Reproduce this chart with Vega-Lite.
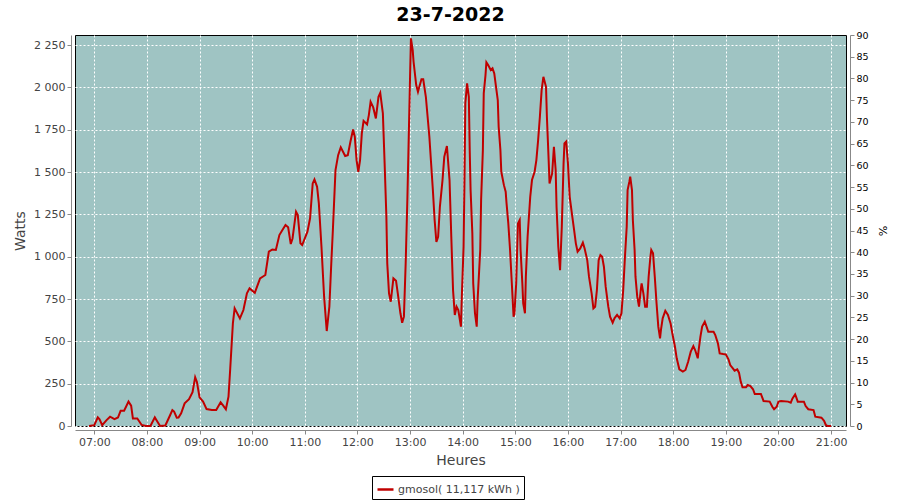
{
  "$schema": "https://vega.github.io/schema/vega-lite/v6.json",
  "width": 771,
  "height": 391,
  "autosize": {"type": "none"},
  "padding": {"left": 75, "top": 35, "right": 54, "bottom": 74},
  "background": "white",
  "title": {"text": "23-7-2022", "fontSize": 19, "fontWeight": "bold", "font": "DejaVu Sans", "color": "#000", "anchor": "middle", "frame": "group", "dx": -10, "offset": 5},
  "config": {
    "view": {"fill": "#9fc4c3", "stroke": "#000", "strokeWidth": 1},
    "axis": {"labelFont": "DejaVu Sans", "titleFont": "DejaVu Sans", "labelColor": "#444", "titleColor": "#444", "domainColor": "#888", "tickColor": "#888", "tickSize": 4, "titleFontWeight": "normal", "gridColor": "#ffffff", "gridDash": [2, 2], "gridOpacity": 1, "gridWidth": 1}
  },
  "layer": [
    {
      "data": {"values": [
        {"t":"2022-07-23T06:54:00","w":0},{"t":"2022-07-23T07:00:00","w":5},{"t":"2022-07-23T07:04:00","w":51},{"t":"2022-07-23T07:06:00","w":40},{"t":"2022-07-23T07:09:00","w":5},{"t":"2022-07-23T07:14:00","w":35},{"t":"2022-07-23T07:18:00","w":55},{"t":"2022-07-23T07:23:00","w":41},{"t":"2022-07-23T07:27:00","w":50},{"t":"2022-07-23T07:30:00","w":90},{"t":"2022-07-23T07:34:00","w":90},{"t":"2022-07-23T07:39:00","w":144},{"t":"2022-07-23T07:42:00","w":120},{"t":"2022-07-23T07:44:00","w":45},{"t":"2022-07-23T07:49:00","w":45},{"t":"2022-07-23T07:54:00","w":6},{"t":"2022-07-23T07:59:00","w":0},{"t":"2022-07-23T08:04:00","w":0},{"t":"2022-07-23T08:09:00","w":51},{"t":"2022-07-23T08:12:00","w":25},{"t":"2022-07-23T08:15:00","w":0},{"t":"2022-07-23T08:21:00","w":3},{"t":"2022-07-23T08:26:00","w":59},{"t":"2022-07-23T08:29:00","w":94},{"t":"2022-07-23T08:31:00","w":85},{"t":"2022-07-23T08:34:00","w":49},{"t":"2022-07-23T08:36:00","w":50},{"t":"2022-07-23T08:39:00","w":75},{"t":"2022-07-23T08:43:00","w":134},{"t":"2022-07-23T08:48:00","w":158},{"t":"2022-07-23T08:52:00","w":200},{"t":"2022-07-23T08:55:00","w":288},{"t":"2022-07-23T08:57:00","w":260},{"t":"2022-07-23T09:00:00","w":169},{"t":"2022-07-23T09:04:00","w":144},{"t":"2022-07-23T09:08:00","w":100},{"t":"2022-07-23T09:14:00","w":94},{"t":"2022-07-23T09:19:00","w":94},{"t":"2022-07-23T09:24:00","w":140},{"t":"2022-07-23T09:27:00","w":120},{"t":"2022-07-23T09:30:00","w":99},{"t":"2022-07-23T09:33:00","w":173},{"t":"2022-07-23T09:35:00","w":341},{"t":"2022-07-23T09:38:00","w":606},{"t":"2022-07-23T09:40:00","w":695},{"t":"2022-07-23T09:46:00","w":636},{"t":"2022-07-23T09:50:00","w":685},{"t":"2022-07-23T09:54:00","w":784},{"t":"2022-07-23T09:57:00","w":813},{"t":"2022-07-23T10:03:00","w":787},{"t":"2022-07-23T10:09:00","w":872},{"t":"2022-07-23T10:15:00","w":892},{"t":"2022-07-23T10:19:00","w":1030},{"t":"2022-07-23T10:23:00","w":1043},{"t":"2022-07-23T10:27:00","w":1040},{"t":"2022-07-23T10:31:00","w":1128},{"t":"2022-07-23T10:35:00","w":1162},{"t":"2022-07-23T10:38:00","w":1187},{"t":"2022-07-23T10:41:00","w":1174},{"t":"2022-07-23T10:44:00","w":1075},{"t":"2022-07-23T10:46:00","w":1108},{"t":"2022-07-23T10:50:00","w":1266},{"t":"2022-07-23T10:52:00","w":1246},{"t":"2022-07-23T10:55:00","w":1079},{"t":"2022-07-23T10:57:00","w":1069},{"t":"2022-07-23T11:03:00","w":1148},{"t":"2022-07-23T11:06:00","w":1227},{"t":"2022-07-23T11:09:00","w":1433},{"t":"2022-07-23T11:11:00","w":1457},{"t":"2022-07-23T11:14:00","w":1413},{"t":"2022-07-23T11:16:00","w":1315},{"t":"2022-07-23T11:19:00","w":1059},{"t":"2022-07-23T11:22:00","w":764},{"t":"2022-07-23T11:25:00","w":561},{"t":"2022-07-23T11:28:00","w":705},{"t":"2022-07-23T11:30:00","w":941},{"t":"2022-07-23T11:32:00","w":1158},{"t":"2022-07-23T11:34:00","w":1394},{"t":"2022-07-23T11:35:00","w":1512},{"t":"2022-07-23T11:38:00","w":1600},{"t":"2022-07-23T11:41:00","w":1646},{"t":"2022-07-23T11:46:00","w":1595},{"t":"2022-07-23T11:49:00","w":1600},{"t":"2022-07-23T11:52:00","w":1679},{"t":"2022-07-23T11:55:00","w":1752},{"t":"2022-07-23T11:57:00","w":1709},{"t":"2022-07-23T11:59:00","w":1571},{"t":"2022-07-23T12:01:00","w":1502},{"t":"2022-07-23T12:03:00","w":1571},{"t":"2022-07-23T12:05:00","w":1729},{"t":"2022-07-23T12:07:00","w":1803},{"t":"2022-07-23T12:11:00","w":1782},{"t":"2022-07-23T12:13:00","w":1837},{"t":"2022-07-23T12:15:00","w":1915},{"t":"2022-07-23T12:18:00","w":1882},{"t":"2022-07-23T12:21:00","w":1817},{"t":"2022-07-23T12:24:00","w":1945},{"t":"2022-07-23T12:26:00","w":1968},{"t":"2022-07-23T12:29:00","w":1847},{"t":"2022-07-23T12:31:00","w":1551},{"t":"2022-07-23T12:33:00","w":1236},{"t":"2022-07-23T12:34:00","w":961},{"t":"2022-07-23T12:36:00","w":784},{"t":"2022-07-23T12:38:00","w":734},{"t":"2022-07-23T12:41:00","w":872},{"t":"2022-07-23T12:44:00","w":858},{"t":"2022-07-23T12:46:00","w":784},{"t":"2022-07-23T12:49:00","w":666},{"t":"2022-07-23T12:51:00","w":610},{"t":"2022-07-23T12:53:00","w":646},{"t":"2022-07-23T12:55:00","w":961},{"t":"2022-07-23T12:57:00","w":1354},{"t":"2022-07-23T12:59:00","w":1827},{"t":"2022-07-23T13:00:00","w":2063},{"t":"2022-07-23T13:01:00","w":2290},{"t":"2022-07-23T13:03:00","w":2221},{"t":"2022-07-23T13:04:00","w":2152},{"t":"2022-07-23T13:07:00","w":2014},{"t":"2022-07-23T13:09:00","w":1974},{"t":"2022-07-23T13:10:00","w":1994},{"t":"2022-07-23T13:13:00","w":2048},{"t":"2022-07-23T13:15:00","w":2048},{"t":"2022-07-23T13:18:00","w":1945},{"t":"2022-07-23T13:20:00","w":1827},{"t":"2022-07-23T13:22:00","w":1709},{"t":"2022-07-23T13:24:00","w":1551},{"t":"2022-07-23T13:26:00","w":1394},{"t":"2022-07-23T13:28:00","w":1217},{"t":"2022-07-23T13:30:00","w":1088},{"t":"2022-07-23T13:32:00","w":1118},{"t":"2022-07-23T13:34:00","w":1295},{"t":"2022-07-23T13:37:00","w":1453},{"t":"2022-07-23T13:39:00","w":1590},{"t":"2022-07-23T13:42:00","w":1654},{"t":"2022-07-23T13:45:00","w":1453},{"t":"2022-07-23T13:47:00","w":1118},{"t":"2022-07-23T13:49:00","w":803},{"t":"2022-07-23T13:51:00","w":656},{"t":"2022-07-23T13:53:00","w":705},{"t":"2022-07-23T13:55:00","w":685},{"t":"2022-07-23T13:58:00","w":587},{"t":"2022-07-23T13:59:00","w":764},{"t":"2022-07-23T14:01:00","w":1059},{"t":"2022-07-23T14:02:00","w":1433},{"t":"2022-07-23T14:03:00","w":1906},{"t":"2022-07-23T14:05:00","w":2024},{"t":"2022-07-23T14:07:00","w":1945},{"t":"2022-07-23T14:08:00","w":1630},{"t":"2022-07-23T14:09:00","w":1394},{"t":"2022-07-23T14:11:00","w":1138},{"t":"2022-07-23T14:12:00","w":843},{"t":"2022-07-23T14:14:00","w":666},{"t":"2022-07-23T14:16:00","w":587},{"t":"2022-07-23T14:17:00","w":744},{"t":"2022-07-23T14:20:00","w":1040},{"t":"2022-07-23T14:21:00","w":1335},{"t":"2022-07-23T14:23:00","w":1630},{"t":"2022-07-23T14:24:00","w":1965},{"t":"2022-07-23T14:26:00","w":2073},{"t":"2022-07-23T14:27:00","w":2148},{"t":"2022-07-23T14:29:00","w":2132},{"t":"2022-07-23T14:32:00","w":2103},{"t":"2022-07-23T14:34:00","w":2113},{"t":"2022-07-23T14:36:00","w":2083},{"t":"2022-07-23T14:38:00","w":2004},{"t":"2022-07-23T14:40:00","w":1925},{"t":"2022-07-23T14:41:00","w":1768},{"t":"2022-07-23T14:43:00","w":1630},{"t":"2022-07-23T14:44:00","w":1502},{"t":"2022-07-23T14:47:00","w":1423},{"t":"2022-07-23T14:49:00","w":1384},{"t":"2022-07-23T14:50:00","w":1315},{"t":"2022-07-23T14:52:00","w":1197},{"t":"2022-07-23T14:54:00","w":1040},{"t":"2022-07-23T14:56:00","w":843},{"t":"2022-07-23T14:58:00","w":646},{"t":"2022-07-23T14:59:00","w":666},{"t":"2022-07-23T15:01:00","w":843},{"t":"2022-07-23T15:03:00","w":1197},{"t":"2022-07-23T15:05:00","w":1217},{"t":"2022-07-23T15:06:00","w":1040},{"t":"2022-07-23T15:08:00","w":843},{"t":"2022-07-23T15:09:00","w":725},{"t":"2022-07-23T15:11:00","w":666},{"t":"2022-07-23T15:12:00","w":882},{"t":"2022-07-23T15:14:00","w":1118},{"t":"2022-07-23T15:17:00","w":1354},{"t":"2022-07-23T15:19:00","w":1453},{"t":"2022-07-23T15:22:00","w":1502},{"t":"2022-07-23T15:24:00","w":1571},{"t":"2022-07-23T15:26:00","w":1689},{"t":"2022-07-23T15:28:00","w":1827},{"t":"2022-07-23T15:30:00","w":1984},{"t":"2022-07-23T15:32:00","w":2063},{"t":"2022-07-23T15:35:00","w":2004},{"t":"2022-07-23T15:36:00","w":1827},{"t":"2022-07-23T15:38:00","w":1571},{"t":"2022-07-23T15:39:00","w":1433},{"t":"2022-07-23T15:41:00","w":1473},{"t":"2022-07-23T15:42:00","w":1492},{"t":"2022-07-23T15:44:00","w":1650},{"t":"2022-07-23T15:46:00","w":1512},{"t":"2022-07-23T15:47:00","w":1295},{"t":"2022-07-23T15:49:00","w":1059},{"t":"2022-07-23T15:51:00","w":921},{"t":"2022-07-23T15:53:00","w":1177},{"t":"2022-07-23T15:55:00","w":1551},{"t":"2022-07-23T15:56:00","w":1669},{"t":"2022-07-23T15:58:00","w":1680},{"t":"2022-07-23T16:00:00","w":1551},{"t":"2022-07-23T16:02:00","w":1354},{"t":"2022-07-23T16:05:00","w":1236},{"t":"2022-07-23T16:07:00","w":1158},{"t":"2022-07-23T16:09:00","w":1079},{"t":"2022-07-23T16:11:00","w":1030},{"t":"2022-07-23T16:14:00","w":1049},{"t":"2022-07-23T16:17:00","w":1083},{"t":"2022-07-23T16:19:00","w":1049},{"t":"2022-07-23T16:22:00","w":980},{"t":"2022-07-23T16:24:00","w":882},{"t":"2022-07-23T16:27:00","w":784},{"t":"2022-07-23T16:29:00","w":695},{"t":"2022-07-23T16:31:00","w":705},{"t":"2022-07-23T16:33:00","w":803},{"t":"2022-07-23T16:35:00","w":980},{"t":"2022-07-23T16:37:00","w":1010},{"t":"2022-07-23T16:39:00","w":1000},{"t":"2022-07-23T16:41:00","w":941},{"t":"2022-07-23T16:43:00","w":823},{"t":"2022-07-23T16:46:00","w":705},{"t":"2022-07-23T16:48:00","w":646},{"t":"2022-07-23T16:51:00","w":610},{"t":"2022-07-23T16:53:00","w":636},{"t":"2022-07-23T16:56:00","w":656},{"t":"2022-07-23T16:59:00","w":636},{"t":"2022-07-23T17:01:00","w":666},{"t":"2022-07-23T17:03:00","w":803},{"t":"2022-07-23T17:05:00","w":1000},{"t":"2022-07-23T17:07:00","w":1177},{"t":"2022-07-23T17:08:00","w":1394},{"t":"2022-07-23T17:10:00","w":1443},{"t":"2022-07-23T17:11:00","w":1473},{"t":"2022-07-23T17:13:00","w":1394},{"t":"2022-07-23T17:14:00","w":1217},{"t":"2022-07-23T17:16:00","w":1040},{"t":"2022-07-23T17:17:00","w":882},{"t":"2022-07-23T17:19:00","w":764},{"t":"2022-07-23T17:21:00","w":705},{"t":"2022-07-23T17:23:00","w":803},{"t":"2022-07-23T17:24:00","w":843},{"t":"2022-07-23T17:26:00","w":784},{"t":"2022-07-23T17:28:00","w":705},{"t":"2022-07-23T17:30:00","w":705},{"t":"2022-07-23T17:32:00","w":882},{"t":"2022-07-23T17:34:00","w":1000},{"t":"2022-07-23T17:35:00","w":1040},{"t":"2022-07-23T17:37:00","w":1020},{"t":"2022-07-23T17:39:00","w":882},{"t":"2022-07-23T17:41:00","w":725},{"t":"2022-07-23T17:43:00","w":587},{"t":"2022-07-23T17:45:00","w":518},{"t":"2022-07-23T17:46:00","w":567},{"t":"2022-07-23T17:48:00","w":636},{"t":"2022-07-23T17:51:00","w":681},{"t":"2022-07-23T17:54:00","w":656},{"t":"2022-07-23T17:57:00","w":606},{"t":"2022-07-23T17:59:00","w":547},{"t":"2022-07-23T18:02:00","w":468},{"t":"2022-07-23T18:04:00","w":400},{"t":"2022-07-23T18:07:00","w":335},{"t":"2022-07-23T18:11:00","w":321},{"t":"2022-07-23T18:14:00","w":331},{"t":"2022-07-23T18:17:00","w":380},{"t":"2022-07-23T18:20:00","w":439},{"t":"2022-07-23T18:23:00","w":472},{"t":"2022-07-23T18:25:00","w":449},{"t":"2022-07-23T18:28:00","w":400},{"t":"2022-07-23T18:29:00","w":449},{"t":"2022-07-23T18:31:00","w":527},{"t":"2022-07-23T18:33:00","w":587},{"t":"2022-07-23T18:36:00","w":616},{"t":"2022-07-23T18:38:00","w":587},{"t":"2022-07-23T18:40:00","w":557},{"t":"2022-07-23T18:43:00","w":557},{"t":"2022-07-23T18:46:00","w":557},{"t":"2022-07-23T18:48:00","w":537},{"t":"2022-07-23T18:51:00","w":488},{"t":"2022-07-23T18:53:00","w":429},{"t":"2022-07-23T18:57:00","w":425},{"t":"2022-07-23T19:00:00","w":423},{"t":"2022-07-23T19:03:00","w":394},{"t":"2022-07-23T19:05:00","w":360},{"t":"2022-07-23T19:08:00","w":341},{"t":"2022-07-23T19:10:00","w":327},{"t":"2022-07-23T19:13:00","w":335},{"t":"2022-07-23T19:15:00","w":315},{"t":"2022-07-23T19:17:00","w":262},{"t":"2022-07-23T19:19:00","w":229},{"t":"2022-07-23T19:23:00","w":229},{"t":"2022-07-23T19:25:00","w":242},{"t":"2022-07-23T19:28:00","w":236},{"t":"2022-07-23T19:31:00","w":217},{"t":"2022-07-23T19:33:00","w":189},{"t":"2022-07-23T19:40:00","w":189},{"t":"2022-07-23T19:43:00","w":148},{"t":"2022-07-23T19:50:00","w":144},{"t":"2022-07-23T19:53:00","w":114},{"t":"2022-07-23T19:55:00","w":99},{"t":"2022-07-23T19:58:00","w":114},{"t":"2022-07-23T20:00:00","w":144},{"t":"2022-07-23T20:03:00","w":148},{"t":"2022-07-23T20:11:00","w":144},{"t":"2022-07-23T20:14:00","w":138},{"t":"2022-07-23T20:16:00","w":163},{"t":"2022-07-23T20:19:00","w":187},{"t":"2022-07-23T20:20:00","w":173},{"t":"2022-07-23T20:22:00","w":144},{"t":"2022-07-23T20:29:00","w":144},{"t":"2022-07-23T20:31:00","w":118},{"t":"2022-07-23T20:34:00","w":99},{"t":"2022-07-23T20:40:00","w":94},{"t":"2022-07-23T20:42:00","w":55},{"t":"2022-07-23T20:49:00","w":49},{"t":"2022-07-23T20:52:00","w":31},{"t":"2022-07-23T20:54:00","w":6},{"t":"2022-07-23T20:56:00","w":0},{"t":"2022-07-23T21:00:00","w":0}
      ]},
      "mark": {"type": "line", "strokeWidth": 2},
      "encoding": {
        "x": {"field": "t", "type": "temporal",
          "scale": {"domain": [{"year": 2022, "month": 7, "date": 23, "hours": 6, "minutes": 38}, {"year": 2022, "month": 7, "date": 23, "hours": 21, "minutes": 17}], "nice": false},
          "axis": {"title": "Heures", "format": "%H:%M", "tickCount": 15, "offset": 4, "labelFontSize": 11, "labelPadding": 2, "titleFontSize": 14, "titlePadding": 6, "grid": true}},
        "y": {"field": "w", "type": "quantitative",
          "scale": {"domain": [0, 2310], "nice": false},
          "axis": {"title": "Watts", "values": [0, 250, 500, 750, 1000, 1250, 1500, 1750, 2000, 2250], "labelExpr": "replace(format(datum.value, ','), ',', ' ')", "offset": 4, "labelFontSize": 11, "labelPadding": 2, "titleFontSize": 14, "titlePadding": 6, "grid": true}},
        "color": {"datum": "gmosol( 11,117 kWh )",
          "scale": {"range": ["#c00000"]},
          "legend": {"title": null, "orient": "none", "legendX": 297, "legendY": 441, "symbolType": "stroke", "symbolSize": 256, "symbolStrokeWidth": 2.5, "labelFont": "DejaVu Sans", "labelFontSize": 11, "labelColor": "#444", "labelOffset": 3, "padding": 4, "strokeColor": "#000", "fillColor": "#fff"}}
      }
    },
    {
      "data": {"values": [{"p": 0}, {"p": 90}]},
      "mark": {"type": "point", "opacity": 0},
      "encoding": {
        "y": {"field": "p", "type": "quantitative",
          "scale": {"domain": [0, 90], "nice": false},
          "axis": {"orient": "right", "title": "%", "values": [0, 5, 10, 15, 20, 25, 30, 35, 40, 45, 50, 55, 60, 65, 70, 75, 80, 85, 90], "offset": 4, "labelFontSize": 9.5, "labelColor": "#000", "labelPadding": 2, "titleFontSize": 11, "titleColor": "#000", "titlePadding": 8, "grid": false}}
      }
    }
  ],
  "resolve": {"scale": {"y": "independent"}, "axis": {"y": "independent"}}
}
